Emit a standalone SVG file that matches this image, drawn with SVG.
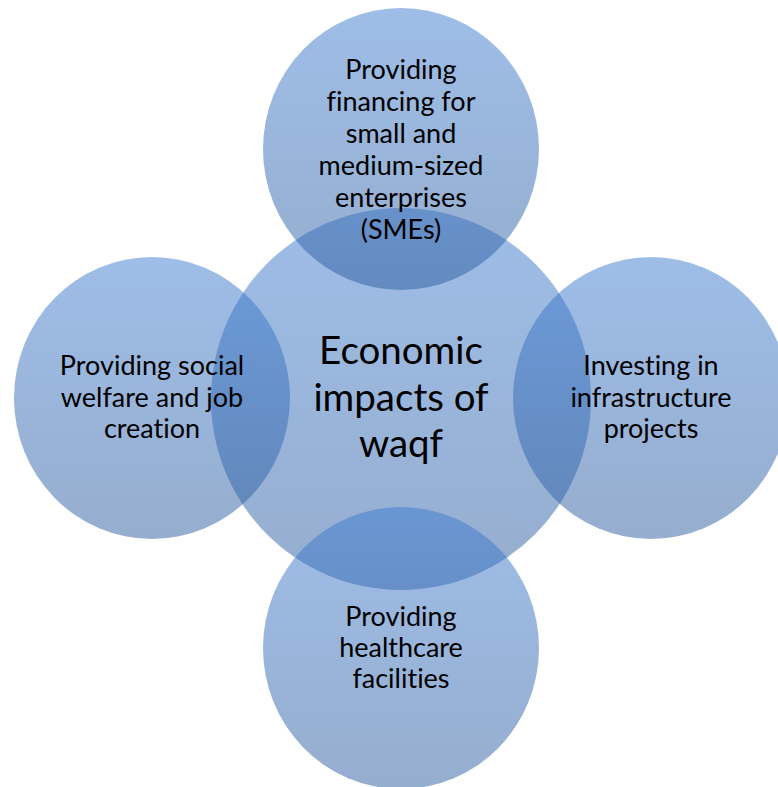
<svg xmlns="http://www.w3.org/2000/svg" width="778" height="787" viewBox="0 0 778 787">
  <defs>
    <linearGradient id="bubbleFill" x1="0" y1="0" x2="0" y2="1">
      <stop offset="0" stop-color="#3c7bd0" stop-opacity="0.5"/>
      <stop offset="1" stop-color="#2c5c9e" stop-opacity="0.5"/>
    </linearGradient>
  </defs>
  <style>
    .bubble { fill: url(#bubbleFill); }
    .label { font-family: Lato, "Liberation Sans", sans-serif; font-size: 27px; fill: #000; text-anchor: middle; font-variant-ligatures: none; }
    .hub { font-size: 38.5px; }
  </style>
  <rect width="778" height="787" fill="#ffffff"/>
  <g id="hub">
    <ellipse class="bubble" cx="401" cy="399" rx="190" ry="191"/>
  </g>
  <g id="node-smes">
    <ellipse class="bubble" cx="401" cy="149" rx="138" ry="141"/>
  </g>
  <g id="node-welfare">
    <ellipse class="bubble" cx="152" cy="398" rx="138" ry="141"/>
  </g>
  <g id="node-infrastructure">
    <ellipse class="bubble" cx="651" cy="398" rx="138" ry="141"/>
  </g>
  <g id="node-healthcare">
    <ellipse class="bubble" cx="401" cy="648" rx="138" ry="141"/>
  </g>
  <g id="connectors"></g>
  <g id="labels">
    <text class="label hub" x="401" y="364">Economic</text>
    <text class="label hub" x="401" y="411">impacts of</text>
    <text class="label hub" x="401" y="457">waqf</text>
    <text class="label" x="401" y="79">Providing</text>
    <text class="label" x="401" y="111">financing for</text>
    <text class="label" x="401" y="143">small and</text>
    <text class="label" x="401" y="175">medium-sized</text>
    <text class="label" x="401" y="207">enterprises</text>
    <text class="label" x="401" y="239">(SMEs)</text>
    <text class="label" x="152" y="375">Providing social</text>
    <text class="label" x="152" y="407">welfare and job</text>
    <text class="label" x="152" y="438">creation</text>
    <text class="label" x="651" y="375">Investing in</text>
    <text class="label" x="651" y="407">infrastructure</text>
    <text class="label" x="651" y="438">projects</text>
    <text class="label" x="401" y="626">Providing</text>
    <text class="label" x="401" y="657">healthcare</text>
    <text class="label" x="401" y="688">facilities</text>
  </g>
</svg>
